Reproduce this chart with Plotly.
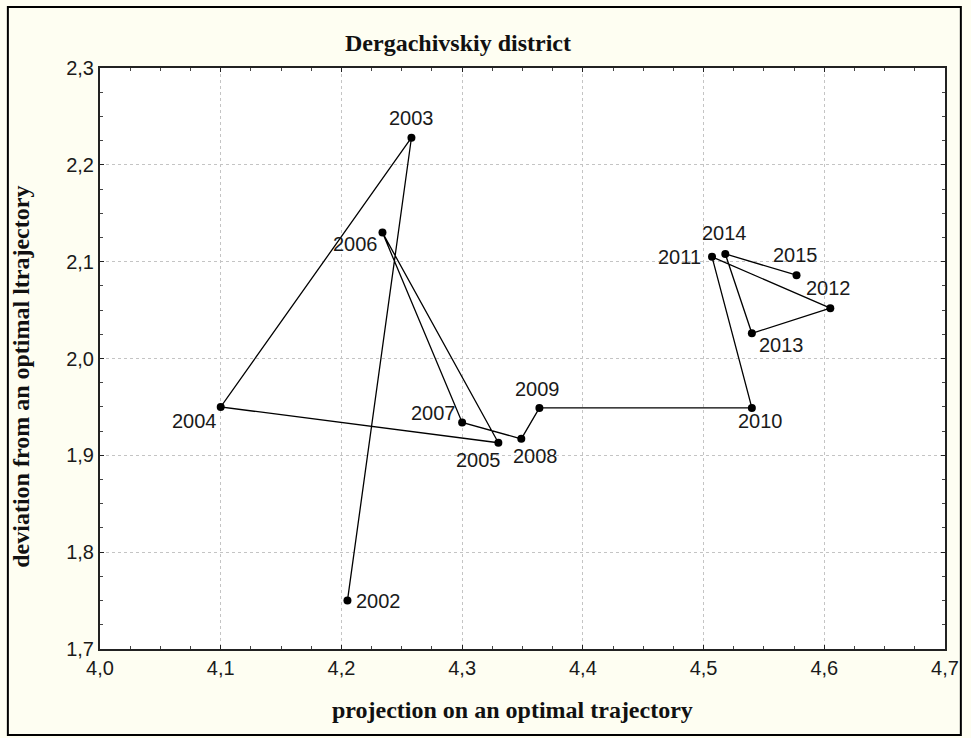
import plotly.graph_objects as go

# ---- data ----
years = ["2002", "2003", "2004", "2005", "2006", "2007", "2008", "2009",
         "2010", "2011", "2012", "2013", "2014", "2015"]
projection = [4.205, 4.258, 4.100, 4.330, 4.234, 4.300, 4.349, 4.364,
              4.540, 4.507, 4.605, 4.540, 4.518, 4.577]
deviation = [1.750, 2.228, 1.950, 1.913, 2.130, 1.934, 1.917, 1.949,
             1.949, 2.105, 2.052, 2.026, 2.108, 2.086]

x_tickvals = [4.0, 4.1, 4.2, 4.3, 4.4, 4.5, 4.6, 4.7]
x_ticktext = ["4,0", "4,1", "4,2", "4,3", "4,4", "4,5", "4,6", "4,7"]
y_tickvals = [1.7, 1.8, 1.9, 2.0, 2.1, 2.2, 2.3]
y_ticktext = ["1,7", "1,8", "1,9", "2,0", "2,1", "2,2", "2,3"]

title_text = "Dergachivskiy district"
x_title = "projection on an optimal trajectory"
y_title = "deviation from an optimal ltrajectory"

# label placement (anchor, xshift px, yshift px)
label_pos = {
    "2002": ("left", 7, 0),
    "2003": ("center", 0, 20),
    "2004": ("right", -2, -14),
    "2005": ("right", 5, -17),
    "2006": ("right", -2, -11),
    "2007": ("right", -4, 9),
    "2008": ("center", 14, -17),
    "2009": ("center", -2, 19),
    "2010": ("center", 9, -13),
    "2011": ("right", -9, 0),
    "2012": ("center", -2, 20),
    "2013": ("left", 5, -12),
    "2014": ("center", -1, 21),
    "2015": ("center", -1, 20),
}

W, H = 971, 738
L, R, T, B = 100, 18, 68, 89
pw, ph = W - L - R, H - T - B

fig = go.Figure()
fig.add_trace(go.Scatter(
    x=projection, y=deviation, mode="lines+markers",
    line=dict(color="black", width=1.3),
    marker=dict(color="black", size=8),
    hoverinfo="skip", showlegend=False,
))

annotations = []
for yr, xv, yv in zip(years, projection, deviation):
    anc, dx, dy = label_pos[yr]
    annotations.append(dict(
        x=xv, y=yv, xref="x", yref="y", text=yr, showarrow=False,
        xanchor=anc, yanchor="middle", xshift=dx, yshift=dy,
        font=dict(family="Liberation Sans, Arial", size=20, color="#1a1a1a"),
    ))

serif = "Liberation Serif, Times New Roman"
annotations.append(dict(
    x=(345 - L) / pw, y=(H - B - 43) / ph, xref="paper", yref="paper",
    text="<b>" + title_text + "</b>", showarrow=False,
    xanchor="left", yanchor="middle",
    font=dict(family=serif, size=24, color="#111"),
))
annotations.append(dict(
    x=(516 - L) / pw, y=(H - B - 710) / ph, xref="paper", yref="paper",
    text="<b>" + x_title + "</b>", showarrow=False,
    xanchor="center", yanchor="middle",
    font=dict(family=serif, size=24, color="#111"),
))
annotations.append(dict(
    x=(20 - L) / pw, y=(H - B - 377) / ph, xref="paper", yref="paper",
    text="<b>" + y_title + "</b>", showarrow=False, textangle=-90,
    xanchor="center", yanchor="middle",
    font=dict(family=serif, size=24, color="#111"),
))


def axis(rng, tv, tt):
    return dict(
        range=rng, tickmode="array", tickvals=tv, ticktext=tt,
        showline=True, linecolor="#222", linewidth=2, mirror="ticks",
        showgrid=True, gridcolor="#c4c4c4", griddash="dot", gridwidth=1,
        ticks="inside", ticklen=4, tickcolor="#222",
        minor=dict(tickmode="linear", tick0=rng[0], dtick=0.025,
                   ticks="inside", ticklen=3, tickcolor="#444", showgrid=False),
        zeroline=False,
        tickfont=dict(family="Liberation Sans, Arial", size=20, color="#1a1a1a"),
    )


fig.update_layout(
    width=W, height=H,
    margin=dict(l=L, r=R, t=T, b=B),
    paper_bgcolor="#FEFEF2",
    plot_bgcolor="white",
    xaxis=axis([4.0, 4.7], x_tickvals, x_ticktext),
    yaxis=axis([1.7, 2.3], y_tickvals, y_ticktext),
    annotations=annotations,
    shapes=[dict(type="rect", xref="paper", yref="paper",
                 x0=(7 - L) / pw, x1=(969 - L) / pw,
                 y0=(H - B - 735) / ph, y1=(H - B - 7) / ph,
                 line=dict(color="black", width=2), layer="below")],
)

fig.write_html(
    "out.html",
    config={"displayModeBar": False},
    post_script="document.body.style.margin='0';document.body.style.overflow='hidden';",
)
